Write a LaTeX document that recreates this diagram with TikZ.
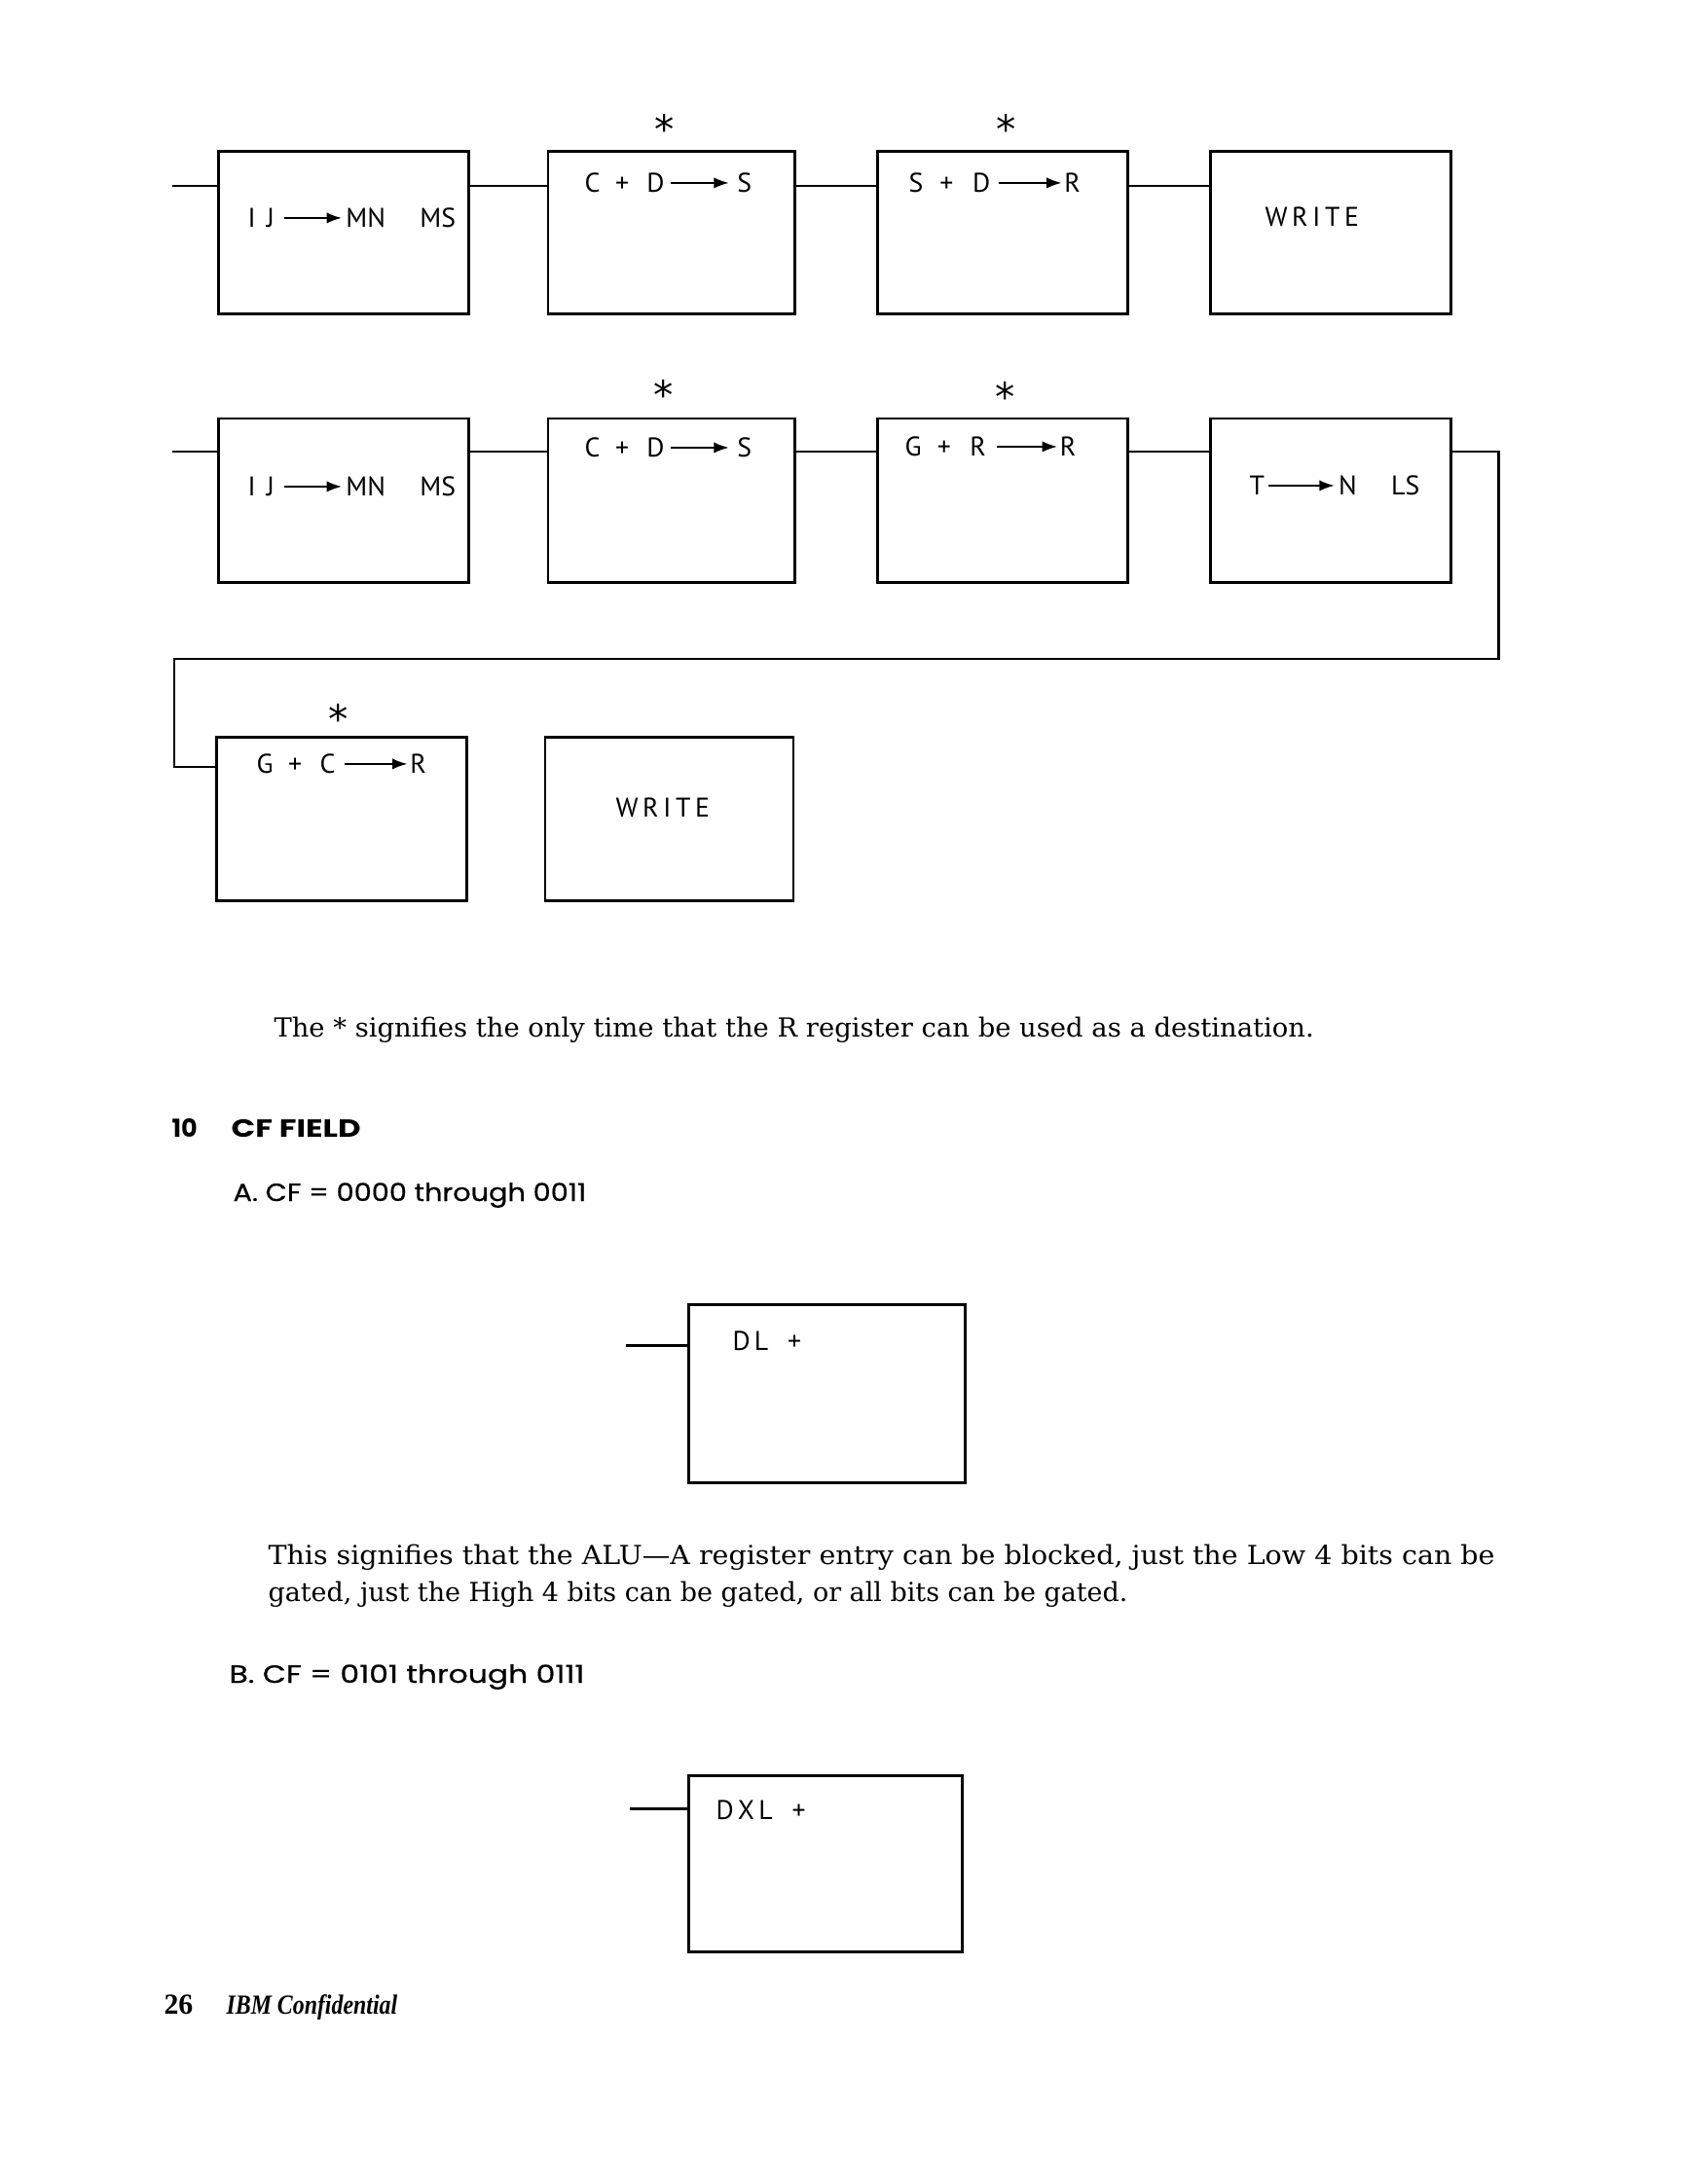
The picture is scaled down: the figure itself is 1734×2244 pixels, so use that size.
\documentclass[tikz,border=0pt]{standalone}
\usepackage{fontspec}
\usepackage{graphicx}
\setmainfont{DejaVu Serif}
\newfontfamily\labfont{PT Sans}
\newfontfamily\starfont{DejaVu Sans}
\newfontfamily\popfont{Poppins}
\newfontfamily\popmed{Poppins}[FakeBold=0.5]
\newfontfamily\footfont{Liberation Serif}
\usetikzlibrary{arrows.meta}
\newcommand{\lettarrow}[1][21pt]{\tikz[baseline=0pt]\draw[line width=0.85pt,-{Latex[length=5.5pt,width=4pt]}](0pt,3.2pt)--(#1,3.2pt);}
\begin{document}
\begin{tikzpicture}[x=0.35294pt,y=-0.35294pt,
  box/.style={draw, line width=1.05pt, inner sep=0pt, minimum width=90pt, minimum height=58.6pt},
  conn/.style={line width=1.05pt},
  lbl/.style={font=\labfont\fontsize{9.8}{11}\selectfont, inner sep=0pt, anchor=base west},
  starlbl/.style={font=\starfont\fontsize{14.3}{14.3}\selectfont, inner sep=0pt, anchor=base},
  body/.style={font=\fontsize{9.5}{11}\selectfont, inner sep=0pt, anchor=base west},
  head/.style={font=\popfont\bfseries\fontsize{9}{11}\selectfont, inner sep=0pt, anchor=base west},
  sub/.style={font=\popmed\fontsize{9}{11}\selectfont, inner sep=0pt, anchor=base west},
  foot/.style={font=\footfont\bfseries\fontsize{10.5}{12}\selectfont, inner sep=0pt, anchor=base west}]
\useasboundingbox[fill=white] (0,0) rectangle (1734,2244);

% ---- row 1
\node[box, minimum width=90.4pt] (b11) at (353,239) {};
\node[box, minimum width=89.3pt] (b12) at (689.5,239) {};
\node[box, minimum width=90.4pt] (b13) at (1030,239) {};
\node[box, minimum width=87.5pt] (b14) at (1367,239) {};
% ---- row 2
\node[box, minimum width=90.4pt, minimum height=59.3pt] (b21) at (353,514) {};
\node[box, minimum width=89.3pt, minimum height=59.3pt] (b22) at (689.5,514) {};
\node[box, minimum width=90.4pt, minimum height=59.3pt] (b23) at (1030,514) {};
\node[box, minimum width=87.5pt, minimum height=59.3pt] (b24) at (1367,514) {};
% ---- row 3
\node[box, minimum width=90.4pt, minimum height=59pt] (b31) at (351,841.5) {};
\node[box, minimum width=90pt, minimum height=59pt] (b32) at (687.5,841.5) {};
% ---- CF boxes
\node[box, minimum width=99.9pt, minimum height=64.9pt] (dl) at (849.5,1432) {};
\node[box, minimum width=99.5pt, minimum height=64.2pt] (dxl) at (848,1915) {};

% ---- labels
\node[lbl] (t11) at (254,233) {I\hspace{4pt}J\hspace{3pt}\lettarrow\hspace{1pt}MN\hspace{12.5pt}MS};
\node[lbl] (t12) at (600,197) {C\hspace{5.5pt}+\hspace{6.5pt}D\hspace{2pt}\lettarrow\hspace{2.5pt}S};
\node[lbl] (t13) at (933,197) {S\hspace{6pt}+\hspace{7pt}D\hspace{2.5pt}\lettarrow[23pt]\hspace{0.5pt}R};
\node[lbl] (t14) at (1299,232) {W\,R\,I\,T\,E};
\node[lbl] (t21) at (254,509) {I\hspace{4pt}J\hspace{3pt}\lettarrow\hspace{1pt}MN\hspace{12.5pt}MS};
\node[lbl] (t22) at (600,469) {C\hspace{5.5pt}+\hspace{6.5pt}D\hspace{2pt}\lettarrow\hspace{2.5pt}S};
\node[lbl] (t23) at (929,468) {G\hspace{5.8pt}+\hspace{6.8pt}R\hspace{3.5pt}\lettarrow[22pt]\hspace{0.5pt}R};
\node[lbl] (t24) at (1283,508) {T\hspace{1pt}\lettarrow[24pt]\hspace{1pt}N\hspace{12.5pt}LS};
\node[lbl] (t31) at (263,794) {G\hspace{5.5pt}+\hspace{6.5pt}C\hspace{2.8pt}\lettarrow[23pt]\hspace{0.5pt}R};
\node[lbl] (t32) at (632,839) {W\,R\,I\,T\,E};
\node[lbl] (tdl) at (752,1387) {D\hspace{1.5pt}L\hspace{7pt}+};
\node[lbl] (tdxl) at (735,1869) {D\hspace{1.5pt}X\hspace{1.5pt}L\hspace{7pt}+};

% ---- stars
\node[starlbl] (s12) at (683,147) {*};
\node[starlbl] (s13) at (1034,147) {*};
\node[starlbl] (s22) at (682,420) {*};
\node[starlbl] (s23) at (1033,422) {*};
\node[starlbl] (s31) at (348,753) {*};

% ---- connectors
\coordinate (i1) at (177,191);
\draw[conn] (i1) -- (i1 -| b11.west);
\draw[conn] (b11.east |- i1) -- (b12.west |- i1);
\draw[conn] (b12.east |- i1) -- (b13.west |- i1);
\draw[conn] (b13.east |- i1) -- (b14.west |- i1);
\coordinate (i2) at (177,464);
\draw[conn] (i2) -- (i2 -| b21.west);
\draw[conn] (b21.east |- i2) -- (b22.west |- i2);
\draw[conn] (b22.east |- i2) -- (b23.west |- i2);
\draw[conn] (b23.east |- i2) -- (b24.west |- i2);
\coordinate (lp1) at (1539,677);
\coordinate (lp2) at (179,788);
\draw[conn] (b24.east |- i2) -- (lp1 |- i2) -- (lp1) -- (lp2 |- lp1) -- (lp2) -- (b31.west |- lp2);
\coordinate (i3) at (643,1382);
\draw[conn] (i3) -- (i3 -| dl.west);
\coordinate (i4) at (647,1858);
\draw[conn] (i4) -- (i4 -| dxl.west);

% ---- text
\node[body] (p1) at (281,1065) {\resizebox{377pt}{\height}{The * signifies the only time that the R register can be used as a destination.}};
\node[head] (h10) at (176,1168) {10};
\node[head] (hcf) at (237,1168) {\resizebox{47pt}{\height}{CF FIELD}};
\node[sub] (sa) at (239,1234) {\resizebox{128pt}{\height}{A. CF = 0000 through 0011}};
\node[body] (p2a) at (275,1607) {\resizebox{444.7pt}{\height}{This signifies that the ALU---A register entry can be blocked, just the Low 4 bits can be}};
\node[body] (p2b) at (275,1645) {\resizebox{311.6pt}{\height}{gated, just the High 4 bits can be gated, or all bits can be gated.}};
\node[sub] (sb) at (235,1729) {\resizebox{128.8pt}{\height}{B. CF = 0101 through 0111}};
\node[foot] (pg) at (168,2069) {26};
\node[foot, font=\footfont\bfseries\itshape\fontsize{10}{12}\selectfont] (conf) at (232,2069) {\resizebox{62pt}{\height}{IBM Confidential}};
\end{tikzpicture}
\end{document}
